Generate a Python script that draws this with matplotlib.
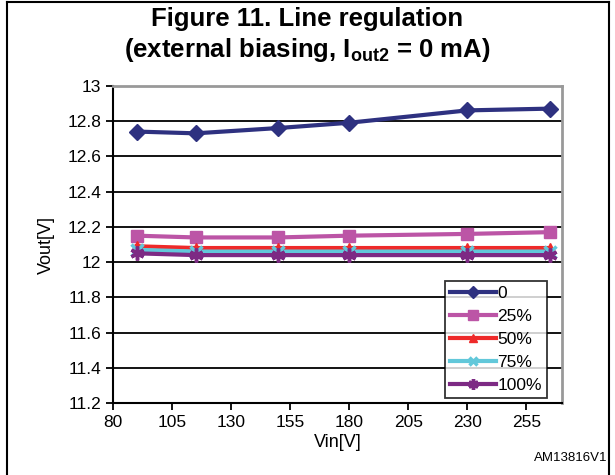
import matplotlib
matplotlib.use("Agg")
import matplotlib.pyplot as plt
from matplotlib.lines import Line2D

plt.rcParams['font.family'] = ['Liberation Sans', 'DejaVu Sans']
plt.rcParams['mathtext.fontset'] = 'custom'
plt.rcParams['mathtext.rm'] = 'Liberation Sans'
plt.rcParams['mathtext.bf'] = 'Liberation Sans:bold'

# ---- data ----
vin = [90, 115, 150, 180, 230, 265]
labels = ['0', '25%', '50%', '75%', '100%']
vout_0 = [12.74, 12.73, 12.76, 12.79, 12.86, 12.87]
vout_25 = [12.15, 12.14, 12.14, 12.15, 12.16, 12.17]
vout_50 = [12.09, 12.08, 12.08, 12.08, 12.08, 12.08]
vout_75 = [12.07, 12.06, 12.06, 12.06, 12.06, 12.06]
vout_100 = [12.05, 12.04, 12.04, 12.04, 12.04, 12.04]
xticks = [80, 105, 130, 155, 180, 205, 230, 255]
yticks = [11.2, 11.4, 11.6, 11.8, 12, 12.2, 12.4, 12.6, 12.8, 13]

series = [vout_0, vout_25, vout_50, vout_75, vout_100]
colors = ['#2E3180', '#BC55A6', '#EE2A2A', '#62C8DA', '#7D2A84']
markers = ['D', 's', '^', 'x', (6, 2, 0)]
msizes = [8, 9, 7, 8, 10]

fig = plt.figure(figsize=(6.15, 4.75), dpi=100)
ax = fig.add_axes([0.1837, 0.1509, 0.7296, 0.6687])

for ys, lab, c, m, ms in zip(series, labels, colors, markers, msizes):
    ax.plot(vin, ys, color=c, lw=3, marker=m, ms=ms, mew=2.5 if m in ('x', (6, 2, 0)) else 1,
            mec=c, mfc=c, label=lab)

ax.set_xlim(80, 270)
ax.set_ylim(11.2, 13)
ax.set_xticks(xticks)
ax.set_yticks(yticks)
ax.set_yticklabels(['%g' % v for v in yticks])
ax.yaxis.grid(True, color='black', lw=1.3)
ax.set_axisbelow(True)
ax.tick_params(direction='out', length=5, width=1.3, labelsize=12.5, colors='black')
for s in ['left', 'bottom']:
    ax.spines[s].set_linewidth(1.5)
for s in ['top', 'right']:
    ax.spines[s].set_color('#999999')
    ax.spines[s].set_linewidth(2)
ax.set_xlabel('Vin[V]', fontsize=13, labelpad=3)
ax.set_ylabel('Vout[V]', fontsize=13, labelpad=9)

leg = ax.legend(loc='lower right', bbox_to_anchor=(0.975, 0.005), fontsize=12.5,
                frameon=True, fancybox=False, edgecolor='black', handlelength=2.6,
                handletextpad=0.1, borderpad=0.3, labelspacing=0.45, borderaxespad=0.2,
                markerscale=0.75)
leg.get_frame().set_linewidth(1.3)

fig.text(0.5, 0.96, 'Figure 11. Line regulation', ha='center', va='center',
         fontsize=18.5, fontweight='bold')
fig.text(0.5, 0.895, r'(external biasing, I$_{\mathbf{out2}}$ = 0 mA)', ha='center', va='center',
         fontsize=18.5, fontweight='bold')
fig.text(0.988, 0.035, 'AM13816V1', ha='right', va='center', fontsize=9.5)

# outer frame
fig.add_artist(Line2D([0.011, 0.011], [0, 0.996], color='black', lw=1.5, transform=fig.transFigure))
fig.add_artist(Line2D([0.991, 0.991], [0, 0.996], color='black', lw=1.5, transform=fig.transFigure))
fig.add_artist(Line2D([0.011, 0.991], [0.996, 0.996], color='black', lw=1.5, transform=fig.transFigure))

fig.savefig('out.png', dpi=100)
